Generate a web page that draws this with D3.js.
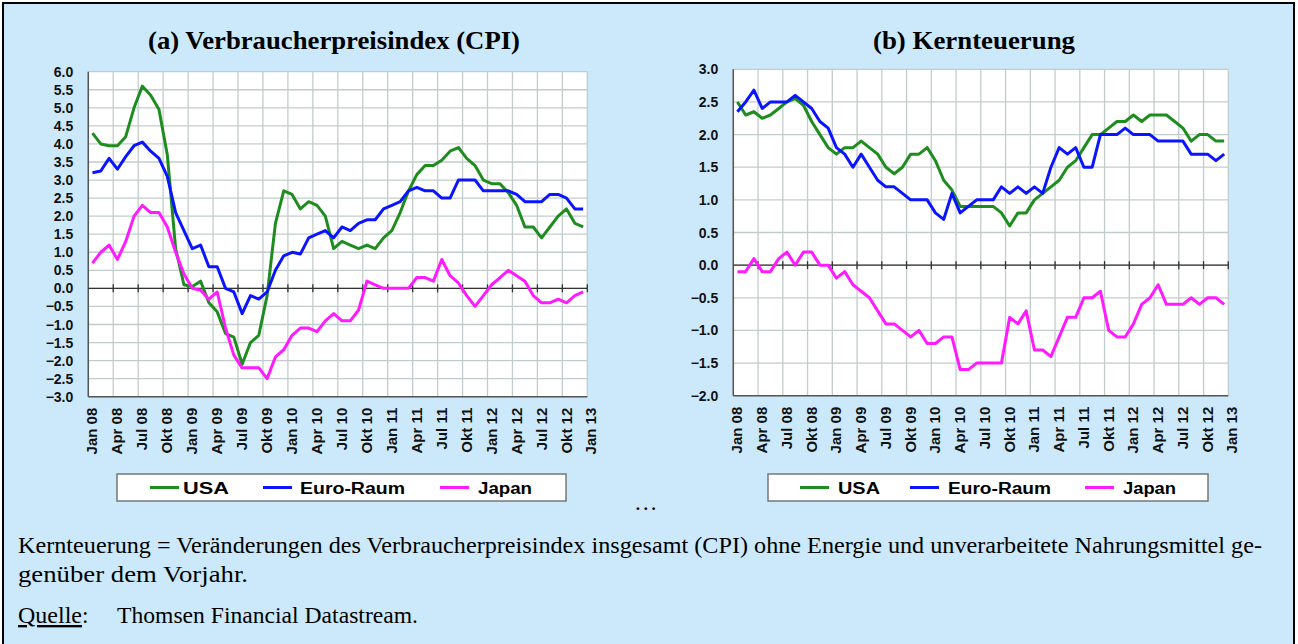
<!DOCTYPE html>
<html>
<head>
<meta charset="utf-8">
<title>Verbraucherpreise und Kernteuerung</title>
<script src="https://cdn.jsdelivr.net/npm/d3@7/dist/d3.min.js"></script>
<style>
    body{
        margin: 0;
        background: #ffffff;
    }
    svg text.tick{
        font-family: "Liberation Sans", Arial, sans-serif;
        font-weight: bold;
        fill: #111;
    }
    .title{
        font-family: "Liberation Serif", "Times New Roman", serif;
        font-weight: bold;
        font-size: 26px;
        fill: #000;
    }
    .note{
        font-family: "Liberation Serif", "Times New Roman", serif;
        font-size: 23.5px;
        fill: #000;
    }
    .legend text{
        font-family: "Liberation Sans", Arial, sans-serif;
        font-weight: bold;
        font-size: 16px;
        fill: #000;
    }
</style>
</head>
<body>
<svg width="1298" height="644"></svg>
<script>
// quarter tick labels (every third month, Jan 08 .. Jan 13)
var tickLabels = ["Jan 08","Apr 08","Jul 08","Okt 08","Jan 09","Apr 09","Jul 09","Okt 09",
    "Jan 10","Apr 10","Jul 10","Okt 10","Jan 11","Apr 11","Jul 11","Okt 11",
    "Jan 12","Apr 12","Jul 12","Okt 12","Jan 13"];
var seriesNames = ["USA", "Euro-Raum", "Japan"];
var seriesColors = ["#1e8c1e", "#0a14ff", "#ff1aff"];

// (a) CPI, monthly Jan 08 - Dec 12
var cpiUSA = [4.3,4.0,3.95,3.95,4.2,5.0,5.6,5.35,4.95,3.7,1.1,0.1,
    0.05,0.2,-0.4,-0.65,-1.25,-1.35,-2.1,-1.5,-1.3,-0.2,1.8,2.7,
    2.6,2.2,2.4,2.3,2.0,1.1,1.3,1.2,1.1,1.2,1.1,1.4,
    1.6,2.1,2.7,3.15,3.4,3.4,3.55,3.8,3.9,3.6,3.4,3.0,
    2.9,2.9,2.65,2.3,1.7,1.7,1.4,1.7,2.0,2.2,1.8,1.7];
var cpiEuro = [3.2,3.25,3.6,3.3,3.65,3.95,4.05,3.8,3.6,3.1,2.1,1.6,
    1.1,1.2,0.6,0.6,0.0,-0.1,-0.7,-0.2,-0.3,-0.1,0.5,0.9,
    1.0,0.95,1.4,1.5,1.6,1.4,1.7,1.6,1.8,1.9,1.9,2.2,
    2.3,2.4,2.7,2.8,2.7,2.7,2.5,2.5,3.0,3.0,3.0,2.7,
    2.7,2.7,2.7,2.6,2.4,2.4,2.4,2.6,2.6,2.5,2.2,2.2];
var cpiJapan = [0.7,1.0,1.2,0.8,1.3,2.0,2.3,2.1,2.1,1.7,1.0,0.4,
    0.0,-0.05,-0.3,-0.1,-1.1,-1.85,-2.2,-2.2,-2.2,-2.5,-1.9,-1.7,
    -1.3,-1.1,-1.1,-1.2,-0.9,-0.7,-0.9,-0.9,-0.6,0.2,0.1,0.0,
    0.0,0.0,0.0,0.3,0.3,0.2,0.8,0.35,0.15,-0.2,-0.5,-0.2,
    0.1,0.3,0.5,0.35,0.2,-0.2,-0.4,-0.4,-0.3,-0.4,-0.2,-0.1];

// (b) Kernteuerung, monthly Jan 08 - Dec 12
var coreUSA = [2.5,2.3,2.35,2.25,2.3,2.4,2.5,2.55,2.45,2.2,2.0,1.8,
    1.7,1.8,1.8,1.9,1.8,1.7,1.5,1.4,1.5,1.7,1.7,1.8,
    1.6,1.3,1.15,0.9,0.9,0.9,0.9,0.9,0.8,0.6,0.8,0.8,
    1.0,1.1,1.2,1.3,1.5,1.6,1.8,2.0,2.0,2.1,2.2,2.2,
    2.3,2.2,2.3,2.3,2.3,2.2,2.1,1.9,2.0,2.0,1.9,1.9];
var coreEuro = [2.35,2.5,2.68,2.4,2.5,2.5,2.5,2.6,2.5,2.4,2.2,2.1,
    1.8,1.7,1.5,1.7,1.5,1.3,1.2,1.2,1.1,1.0,1.0,1.0,
    0.8,0.7,1.1,0.8,0.9,1.0,1.0,1.0,1.2,1.1,1.2,1.1,
    1.2,1.1,1.5,1.8,1.7,1.8,1.5,1.5,2.0,2.0,2.0,2.1,
    2.0,2.0,2.0,1.9,1.9,1.9,1.9,1.7,1.7,1.7,1.6,1.7];
var coreJapan = [-0.1,-0.1,0.1,-0.1,-0.1,0.1,0.2,0.0,0.2,0.2,0.0,0.0,
    -0.2,-0.1,-0.3,-0.4,-0.5,-0.7,-0.9,-0.9,-1.0,-1.1,-1.0,-1.2,
    -1.2,-1.1,-1.1,-1.6,-1.6,-1.5,-1.5,-1.5,-1.5,-0.8,-0.9,-0.7,
    -1.3,-1.3,-1.4,-1.1,-0.8,-0.8,-0.5,-0.5,-0.4,-1.0,-1.1,-1.1,
    -0.9,-0.6,-0.5,-0.3,-0.6,-0.6,-0.6,-0.5,-0.6,-0.5,-0.5,-0.6];

var svg = d3.select("svg");

// page background + frame
svg.append("rect")
    .attr("x", 3).attr("y", 3).attr("width", 1291).attr("height", 650)
    .attr("fill", "#cce9fb").attr("stroke", "#000").attr("stroke-width", 2);

function drawPanel(p) {
    var nMonths = 60;
    var x = d3.scaleLinear().domain([0, nMonths]).range([p.left, p.right]);
    var y = d3.scaleLinear().domain(p.domain).range([p.bottom, p.top]);
    var g = svg.append("g");

    g.append("rect")
        .attr("x", p.left).attr("y", p.top)
        .attr("width", p.right - p.left).attr("height", p.bottom - p.top)
        .attr("fill", "#fff");

    // horizontal gridlines
    var yTicks = d3.range(p.domain[0], p.domain[1] + 0.001, 0.5);
    g.selectAll(".hg").data(yTicks).enter().append("line")
        .attr("x1", p.left).attr("x2", p.right)
        .attr("y1", function (d) {return y(d);})
        .attr("y2", function (d) {return y(d);})
        .attr("stroke", "#c3cccc").attr("stroke-width", 1.3);

    // vertical gridlines every quarter
    var qIdx = d3.range(0, nMonths + 1, 3);
    g.selectAll(".vg").data(qIdx).enter().append("line")
        .attr("x1", function (d) {return x(d);})
        .attr("x2", function (d) {return x(d);})
        .attr("y1", p.top).attr("y2", p.bottom)
        .attr("stroke", "#c3cccc").attr("stroke-width", 1.3);

    // frame axes
    g.append("line").attr("x1", p.left).attr("x2", p.left)
        .attr("y1", p.top).attr("y2", p.bottom)
        .attr("stroke", "#555").attr("stroke-width", 1.5);
    g.append("line").attr("x1", p.left).attr("x2", p.right)
        .attr("y1", p.bottom).attr("y2", p.bottom)
        .attr("stroke", "#555").attr("stroke-width", 1.5);

    // zero line with tick crosses
    g.append("line").attr("x1", p.left).attr("x2", p.right)
        .attr("y1", y(0)).attr("y2", y(0))
        .attr("stroke", "#333").attr("stroke-width", 1.3);
    g.selectAll(".zt").data(qIdx.slice(1)).enter().append("line")
        .attr("x1", function (d) {return x(d);})
        .attr("x2", function (d) {return x(d);})
        .attr("y1", y(0) - 4).attr("y2", y(0) + 4)
        .attr("stroke", "#333").attr("stroke-width", 1.3);

    // y labels
    g.selectAll(".yl").data(yTicks).enter().append("text")
        .attr("class", "tick")
        .style("font-size", "14px")
        .attr("x", p.left - 15)
        .attr("y", function (d) {return y(d);})
        .attr("dy", "0.36em")
        .attr("text-anchor", "end")
        .text(function (d) {return d3.format(".1f")(d);});

    // x labels (rotated)
    g.selectAll(".xl").data(tickLabels).enter().append("text")
        .attr("class", "tick")
        .style("font-size", "15px")
        .attr("text-anchor", "end")
        .attr("transform", function (d, i) {
            return "translate(" + (x(i * 3 + 0.5) + 5) + "," + (p.bottom + 11) + ") rotate(-90)";
        })
        .text(function (d) {return d;});

    // series
    var line = d3.line()
        .x(function (d, i) {return x(i + 0.5);})
        .y(function (d) {return y(d);});
    p.series.forEach(function (s, k) {
        g.append("path")
            .datum(s)
            .attr("d", line)
            .attr("fill", "none")
            .attr("stroke", seriesColors[k])
            .attr("stroke-width", 3)
            .attr("stroke-linejoin", "round");
    });

    // title
    svg.append("text").attr("class", "title")
        .attr("x", p.titleX).attr("y", 49)
        .attr("textLength", p.titleW).attr("lengthAdjust", "spacingAndGlyphs")
        .text(p.title);

    // legend
    var lg = svg.append("g").attr("class", "legend");
    lg.append("rect")
        .attr("x", p.legend.x).attr("y", 474)
        .attr("width", p.legend.w).attr("height", 27)
        .attr("fill", "#fff").attr("stroke", "#777").attr("stroke-width", 1.5);
    seriesNames.forEach(function (name, k) {
        var it = p.legend.items[k];
        lg.append("line")
            .attr("x1", it[0]).attr("x2", it[0] + 29)
            .attr("y1", 487.5).attr("y2", 487.5)
            .attr("stroke", seriesColors[k]).attr("stroke-width", 3);
        lg.append("text")
            .attr("x", it[1]).attr("y", 493.5)
            .attr("textLength", it[2]).attr("lengthAdjust", "spacingAndGlyphs")
            .text(name);
    });
}

drawPanel({
    left: 88.3, right: 587.3, top: 71.7, bottom: 396.7,
    domain: [-3, 6],
    series: [cpiUSA, cpiEuro, cpiJapan],
    title: "(a) Verbraucherpreisindex (CPI)", titleX: 148, titleW: 372,
    legend: {x: 117, w: 449, items: [[150, 183, 46], [263, 300, 105], [440, 478, 54]]}
});

drawPanel({
    left: 733.3, right: 1228.3, top: 69.3, bottom: 395.7,
    domain: [-2, 3],
    series: [coreUSA, coreEuro, coreJapan],
    title: "(b) Kernteuerung", titleX: 873, titleW: 202,
    legend: {x: 768, w: 440, items: [[800, 838, 42], [910, 948, 103], [1085, 1123, 53]]}
});

svg.append("text").attr("class", "note")
    .attr("x", 634).attr("y", 510).text("…");

svg.append("text").attr("class", "note")
    .attr("x", 18).attr("y", 553)
    .attr("textLength", 1244).attr("lengthAdjust", "spacingAndGlyphs")
    .text("Kernteuerung = Veränderungen des Verbraucherpreisindex insgesamt (CPI) ohne Energie und unverarbeitete Nahrungsmittel ge-");
svg.append("text").attr("class", "note")
    .attr("x", 18).attr("y", 582)
    .attr("textLength", 230).attr("lengthAdjust", "spacingAndGlyphs")
    .text("genüber dem Vorjahr.");
svg.append("text").attr("class", "note")
    .attr("x", 18).attr("y", 623)
    .attr("text-decoration", "underline")
    .attr("textLength", 64).attr("lengthAdjust", "spacingAndGlyphs")
    .text("Quelle");
svg.append("text").attr("class", "note")
    .attr("x", 82).attr("y", 623)
    .text(":");
svg.append("text").attr("class", "note")
    .attr("x", 117).attr("y", 623)
    .attr("textLength", 301).attr("lengthAdjust", "spacingAndGlyphs")
    .text("Thomsen Financial Datastream.");
</script>
</body>
</html>
